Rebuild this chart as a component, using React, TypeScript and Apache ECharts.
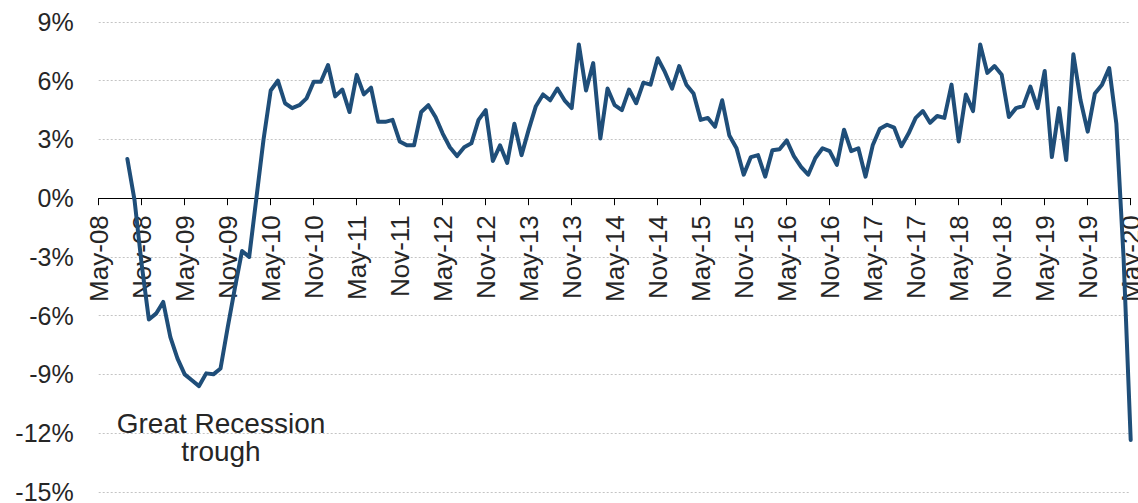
import React, { useEffect, useRef } from "react";
import * as echarts from "echarts";

const MONTHS = ["Jan", "Feb", "Mar", "Apr", "May", "Jun", "Jul", "Aug", "Sep", "Oct", "Nov", "Dec"];
const START_YEAR = 2008;
const START_MONTH = 4; // May
const MONTH_COUNT = 145; // May-08 .. May-20

const categories: string[] = [];
for (let k = 0; k < MONTH_COUNT; k++) {
  const m = (START_MONTH + k) % 12;
  const y = START_YEAR + Math.floor((START_MONTH + k) / 12);
  categories.push(`${MONTHS[m]}-${String(y % 100).padStart(2, "0")}`);
}

// Year-over-year growth, %, monthly from May-08 (first 4 months not shown)
const values: (number | null)[] = [
  null, null, null, null, 2.0, -0.1, -3.4, -6.2,
  -5.9, -5.3, -7.1, -8.2, -9.0, -9.3, -9.6, -8.95, -9.0, -8.7, -6.6, -4.6,
  -2.7, -3.0, 0.0, 3.0, 5.5, 6.0, 4.85, 4.6, 4.75, 5.1, 5.95, 5.95,
  6.8, 5.2, 5.55, 4.4, 6.3, 5.3, 5.65, 3.9, 3.9, 4.0, 2.9, 2.7,
  2.7, 4.4, 4.75, 4.15, 3.3, 2.6, 2.15, 2.6, 2.8, 4.0, 4.5, 1.9,
  2.7, 1.8, 3.8, 2.2, 3.5, 4.7, 5.3, 5.0, 5.6, 5.0, 4.6, 7.85,
  5.5, 6.9, 3.05, 5.6, 4.75, 4.5, 5.55, 4.85, 5.9, 5.8, 7.15, 6.45,
  5.6, 6.75, 5.8, 5.35, 4.0, 4.1, 3.65, 5.0, 3.2, 2.55, 1.2, 2.1,
  2.2, 1.1, 2.45, 2.5, 2.95, 2.15, 1.6, 1.2, 2.05, 2.55, 2.4, 1.7,
  3.5, 2.4, 2.55, 1.1, 2.7, 3.55, 3.75, 3.6, 2.65, 3.3, 4.1, 4.45,
  3.85, 4.2, 4.1, 5.8, 2.9, 5.3, 4.45, 7.85, 6.4, 6.75, 6.3, 4.15,
  4.6, 4.7, 5.7, 4.6, 6.5, 2.1, 4.6, 1.95, 7.35, 5.0, 3.4, 5.35,
  5.8, 6.65, 3.8, -3.0, -12.35,
];

const Y_MIN = -15;
const Y_MAX = 9;
const Y_STEP = 3;
const LABEL_EVERY = 6;
const ANNOTATION = "Great Recession\ntrough";

const GRID_TOP = 22;
const GRID_BOTTOM_Y = 491.8;
const ZERO_Y = GRID_TOP + ((GRID_BOTTOM_Y - GRID_TOP) * (Y_MAX - 0)) / (Y_MAX - Y_MIN);

export default function App() {
  const ref = useRef<HTMLDivElement>(null);

  useEffect(() => {
    if (!ref.current) return;
    const chart = echarts.init(ref.current, undefined, { renderer: "svg" });
    const textColor = "#262626";
    const font = "Liberation Sans, Arial, Helvetica, sans-serif";
    chart.setOption({
      animation: false,
      backgroundColor: "#ffffff",
      grid: {
        left: 98.7,
        right: 7.3,
        top: GRID_TOP,
        bottom: 503 - GRID_BOTTOM_Y,
        containLabel: false,
        outerBoundsMode: "none",
      },
      xAxis: {
        type: "category",
        data: categories,
        boundaryGap: false,
        position: "bottom",
        offset: -(GRID_BOTTOM_Y - ZERO_Y),
        axisLine: { onZero: false, lineStyle: { color: "#000", width: 1 } },
        axisTick: {
          show: true,
          interval: LABEL_EVERY - 1,
          length: 7,
          inside: false,
          lineStyle: { color: "#000", width: 1 },
        },
        axisLabel: {
          interval: LABEL_EVERY - 1,
          rotate: 90,
          margin: 17,
          color: textColor,
          fontSize: 26,
          fontFamily: font,
          hideOverlap: false,
        },
        splitLine: { show: false },
      },
      yAxis: {
        type: "value",
        min: Y_MIN,
        max: Y_MAX,
        interval: Y_STEP,
        axisLine: { show: false },
        axisTick: { show: false },
        axisLabel: {
          formatter: (v: number) => `${v}%`,
          color: textColor,
          fontSize: 25,
          fontFamily: font,
          margin: 25,
        },
        splitLine: {
          show: true,
          lineStyle: { color: "#c4c4c4", width: 1, type: [2, 2] },
        },
      },
      series: [
        {
          type: "line",
          data: values,
          symbol: "none",
          connectNulls: false,
          lineStyle: { color: "#1F4E79", width: 4, join: "round", cap: "round" },
          z: 5,
        },
      ],
      graphic: [
        {
          type: "text",
          x: 221,
          y: 409,
          style: {
            text: ANNOTATION,
            fill: textColor,
            font: `28px ${font}`,
            lineHeight: 28.5,
            align: "center",
            verticalAlign: "top",
          },
        },
      ],
    });
    return () => chart.dispose();
  }, []);

  return (
    <div
      ref={ref}
      style={{ position: "fixed", left: 0, top: 0, width: 1138, height: 503 }}
    />
  );
}
